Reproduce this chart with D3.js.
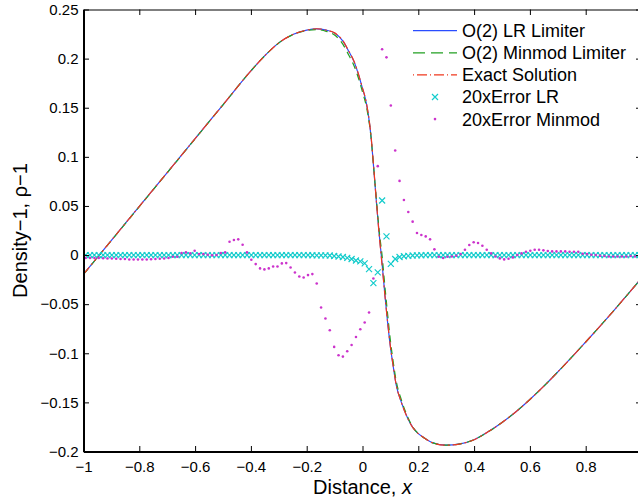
<!DOCTYPE html>
<html lang="en">
<head>
<meta charset="UTF-8">
<title>Density perturbation</title>
<script src="https://d3js.org/d3.v7.min.js"></script>
<style>
    body {
    margin: 0;
    background-color: white;
    }
    text {
    font-family: "Liberation Sans", Arial, Helvetica, sans-serif;
    fill: black;
    }
    .axis-title {
    font-size: 20px;
    }
    .legend-label {
    font-size: 18px;
    }
</style>
</head>
<body>
<svg id="chart"></svg>
<script>
    const width = 638;
    const height = 497;
    const plot = { left: 83.5, right: 641.5, top: 9.5, bottom: 451.5 };

    // ticks
    const xTicks = [-1, -0.8, -0.6, -0.4, -0.2, 0, 0.2, 0.4, 0.6, 0.8, 1];
    const xTickLabels = ["\u22121", "\u22120.8", "\u22120.6", "\u22120.4", "\u22120.2", "0", "0.2", "0.4", "0.6", "0.8", ""];
    const yTicks = [-0.2, -0.15, -0.1, -0.05, 0, 0.05, 0.1, 0.15, 0.2, 0.25];
    const yTickLabels = ["\u22120.2", "\u22120.15", "\u22120.1", "\u22120.05", "0", "0.05", "0.1", "0.15", "0.2", "0.25"];

    // solution curves, sampled along x
    const curveX = [-1.0, -0.9, -0.8, -0.7, -0.6, -0.5, -0.4, -0.35, -0.3, -0.25, -0.2, -0.165, -0.13, -0.1, -0.07, -0.05,
                    -0.03, -0.01, 0.0, 0.01, 0.02, 0.03, 0.04, 0.05, 0.06, 0.07, 0.08, 0.09, 0.10, 0.11, 0.12, 0.14,
                    0.16, 0.18, 0.20, 0.22, 0.25, 0.30, 0.35, 0.40, 0.45, 0.50, 0.55, 0.60, 0.65, 0.70, 0.75, 0.80,
                    0.85, 0.90, 0.95, 1.0];
    const exactY = [-0.0195, 0.0150, 0.0495, 0.0840, 0.1185, 0.1530, 0.1875, 0.2030, 0.2160, 0.2245, 0.2290, 0.2304, 0.2290, 0.2262, 0.2180, 0.2080,
                    0.1970, 0.1800, 0.1700, 0.1600, 0.1450, 0.1230, 0.0900, 0.0540, 0.0200, -0.0100, -0.0400, -0.0680, -0.0930, -0.1130, -0.1310, -0.1505,
                    -0.1650, -0.1755, -0.1818, -0.1860, -0.1910, -0.1936, -0.1922, -0.1880, -0.1800, -0.1705, -0.1595, -0.1470, -0.1335, -0.1190, -0.1040, -0.0885,
                    -0.0728, -0.0568, -0.0402, -0.0235];
    const lrY = [-0.0195, 0.0150, 0.0495, 0.0840, 0.1185, 0.1530, 0.1875, 0.2030, 0.2160, 0.2245, 0.2290, 0.2303, 0.2290, 0.2261, 0.2178, 0.2078,
                 0.1967, 0.1797, 0.1696, 0.1595, 0.1445, 0.1222, 0.0890, 0.0535, 0.0210, -0.0080, -0.0395, -0.0685, -0.0935, -0.1132, -0.1311, -0.1505,
                 -0.1650, -0.1755, -0.1818, -0.1860, -0.1910, -0.1936, -0.1922, -0.1880, -0.1800, -0.1705, -0.1595, -0.1470, -0.1335, -0.1190, -0.1040, -0.0885,
                 -0.0728, -0.0568, -0.0402, -0.0235];
    const minmodY = [-0.0197, 0.0148, 0.0493, 0.0838, 0.1183, 0.1530, 0.1875, 0.2030, 0.2160, 0.2243, 0.2285, 0.2295, 0.2278, 0.2240, 0.2145, 0.2040,
                     0.1925, 0.1760, 0.1660, 0.1560, 0.1420, 0.1215, 0.0895, 0.0560, 0.0240, 0.0000, -0.0310, -0.0600, -0.0870, -0.1085, -0.1270, -0.1480,
                     -0.1635, -0.1750, -0.1818, -0.1860, -0.1910, -0.1936, -0.1922, -0.1880, -0.1800, -0.1705, -0.1595, -0.1470, -0.1335, -0.1190, -0.1040, -0.0885,
                     -0.0728, -0.0568, -0.0402, -0.0236];

    // 20x error at the 128 cell centres
    const gridN = 128;
    const errLR = [
      0, 0, 0, 0, 0, 0, 0, 0, 0, 0, 0, 0, 0, 0, 0, 0,
      0, 0, 0, 0, 0, 0, 0, 0, 0, 0, 0, 0, 0, 0, 0, 0,
      0, 0, 0, 0, 0, 0, 0, 0, 0, 0, 0, 0, 0, 0, 0, 0,
      0, 0, 0, 0, -0.0002, -0.0003, -0.0003, -0.0004, -0.0005, -0.001, -0.0015, -0.002, -0.0028, -0.004, -0.0055, -0.0065,
      -0.0085, -0.0143, -0.0286, -0.0177, 0.0555, 0.019, -0.009, -0.004, -0.002, -0.0012, -0.0008, -0.0005, -0.0003, -0.0002, 0, 0,
      0, 0, 0, 0, 0, 0, 0, 0, 0, 0, 0, 0, 0, 0, 0, 0,
      0, 0, 0, 0, 0, 0, 0, 0, 0, 0, 0, 0, 0, 0, 0, 0,
      0, 0, 0, 0, 0, 0, 0, 0, 0, 0, 0, 0, 0, 0, 0, 0
    ];
    const errMinmod = [
      -0.003, -0.003, -0.003, -0.003, -0.0032, -0.0035, -0.0035, -0.0038, -0.004, -0.004, -0.0045, -0.0045, -0.0045, -0.0045, -0.0045, -0.0042,
      -0.004, -0.0038, -0.0035, -0.003, -0.0017, -0.0017, 0.002, 0.0027, 0.0017, 0.0044, 0.001, 0.001, 0.0003, -0.0003, 0, 0.002,
      0.0027, 0.0136, 0.0153, 0.016, 0.0105, 0.0027, -0.0048, -0.0092, -0.0136, -0.0146, -0.0136, -0.0116, -0.0116, -0.0085, -0.0082, -0.0126,
      -0.0177, -0.0218, -0.0228, -0.0204, -0.0194, -0.0289, -0.0534, -0.0646, -0.0765, -0.0935, -0.102, -0.1034, -0.098, -0.0915, -0.0834, -0.0755,
      -0.0687, -0.0585, -0.0238, 0.0905, 0.2095, 0.2013, 0.1523, 0.1064, 0.0755, 0.0561, 0.0439, 0.034, 0.0224, 0.0204, 0.019, 0.016,
      0.0058, -0.0017, -0.003, -0.0017, -0.0014, -0.0007, 0.001, 0.0054, 0.0102, 0.013, 0.0122, 0.0095, 0.0054, 0.0017, -0.0014, -0.0034,
      -0.0044, -0.0037, -0.0024, 0, 0.0017, 0.0034, 0.0044, 0.0054, 0.0054, 0.0048, 0.0041, 0.0037, 0.0037, 0.0037, 0.0037, 0.0034,
      0.0034, 0.0034, 0.0014, 0.001, 0.0003, 0, -0.0007, -0.001, -0.0014, -0.0014, -0.0014, -0.0014, -0.0014, -0.001, -0.0014, -0.0014
    ];
    const gridX = d3.range(gridN).map(i => -1 + (i + 0.5) * 2 / gridN);

    const legendLabels = ["O(2) LR Limiter", "O(2) Minmod Limiter", "Exact Solution", "20xError LR", "20xError Minmod"];

    const colLR = "#2a4dff";
    const colMinmod = "#22a022";
    const colExact = "#f0381e";
    const colErrLR = "#14cccc";
    const colErrMinmod = "#cc33cc";

    const svg = d3.select("#chart")
                .attr("width", width)
                .attr("height", height);

    const x = d3.scaleLinear().domain([-1, 1]).range([plot.left, plot.right]);
    const y = d3.scaleLinear().domain([-0.2, 0.25]).range([plot.bottom, plot.top]);

    svg.append("defs").append("clipPath").attr("id", "clip")
      .append("rect")
      .attr("x", plot.left).attr("y", plot.top)
      .attr("width", plot.right - plot.left).attr("height", plot.bottom - plot.top);

    const g = svg.append("g").attr("clip-path", "url(#clip)");

    const line = d3.line()
      .x((d, i) => x(curveX[i]))
      .y(d => y(d))
      .curve(d3.curveMonotoneX);

    // Draw curves
    g.append("path").attr("d", line(lrY))
      .attr("fill", "none").attr("stroke", colLR).attr("stroke-width", 1.2);
    g.append("path").attr("d", line(minmodY))
      .attr("fill", "none").attr("stroke", colMinmod).attr("stroke-width", 1.2)
      .attr("stroke-dasharray", "7,5");
    g.append("path").attr("d", line(exactY))
      .attr("fill", "none").attr("stroke", colExact).attr("stroke-width", 1.2)
      .attr("stroke-dasharray", "9,3,2,3");

    // Draw error markers
    const cross = "M-3,-3L3,3M-3,3L3,-3";
    g.selectAll(".err-lr")
      .data(errLR)
      .enter()
      .append("path")
      .attr("class", "err-lr")
      .attr("transform", (d, i) => `translate(${x(gridX[i])},${y(d)})`)
      .attr("d", cross)
      .attr("stroke", colErrLR)
      .attr("stroke-width", 1.2)
      .attr("fill", "none");

    g.selectAll(".err-mm")
      .data(errMinmod)
      .enter()
      .append("circle")
      .attr("class", "err-mm")
      .attr("cx", (d, i) => x(gridX[i]))
      .attr("cy", d => y(d))
      .attr("r", 1.3)
      .attr("fill", colErrMinmod);

    // Axes (MATLAB style: inward ticks on all four sides)
    function styleAxis(sel, width) {
      sel.select(".domain").attr("stroke-width", width);
      sel.selectAll(".tick line").attr("stroke-width", 1);
      sel.selectAll("text")
        .attr("font-size", 15)
        .attr("font-family", '"Liberation Sans", Arial, Helvetica, sans-serif')
        .attr("fill", "black");
    }

    svg.append("g")
      .attr("transform", `translate(0,${plot.bottom})`)
      .call(d3.axisBottom(x).tickValues(xTicks).tickFormat((d, i) => xTickLabels[i])
            .tickSizeInner(-5.5).tickSizeOuter(0).tickPadding(10))
      .call(s => styleAxis(s, 2));

    svg.append("g")
      .attr("transform", `translate(0,${plot.top})`)
      .call(d3.axisTop(x).tickValues(xTicks).tickFormat("")
            .tickSizeInner(-5.5).tickSizeOuter(0))
      .call(s => styleAxis(s, 1.2));

    svg.append("g")
      .attr("transform", `translate(${plot.left},0)`)
      .call(d3.axisLeft(y).tickValues(yTicks).tickFormat((d, i) => yTickLabels[i])
            .tickSizeInner(-5.5).tickSizeOuter(0).tickPadding(5))
      .call(s => styleAxis(s, 2));

    svg.append("g")
      .attr("transform", `translate(${plot.right},0)`)
      .call(d3.axisRight(y).tickValues(yTicks).tickFormat("")
            .tickSizeInner(-5.5).tickSizeOuter(0))
      .call(s => styleAxis(s, 1.2));

    // Axis titles
    const xTitle = svg.append("text")
      .attr("class", "axis-title")
      .attr("x", (plot.left + plot.right) / 2)
      .attr("y", 494)
      .attr("text-anchor", "middle");
    xTitle.append("tspan").text("Distance, ");
    xTitle.append("tspan").attr("font-style", "italic").text("x");

    svg.append("text")
      .attr("class", "axis-title")
      .attr("transform", `translate(27,${(plot.top + plot.bottom) / 2}) rotate(-90)`)
      .attr("text-anchor", "middle")
      .text("Density\u22121, \u03c1\u22121");

    // Legend (no box)
    const legX0 = 413, legX1 = 457, legY0 = 30.7, legStep = 22.1;
    const leg = svg.append("g");
    legendLabels.forEach((label, i) => {
      const ly = legY0 + i * legStep;
      if (i === 0) {
        leg.append("line").attr("x1", legX0).attr("x2", legX1).attr("y1", ly).attr("y2", ly)
          .attr("stroke", colLR).attr("stroke-width", 1.2);
      } else if (i === 1) {
        leg.append("line").attr("x1", legX0).attr("x2", legX1).attr("y1", ly).attr("y2", ly)
          .attr("stroke", colMinmod).attr("stroke-width", 1.2).attr("stroke-dasharray", "12,6");
      } else if (i === 2) {
        leg.append("line").attr("x1", legX0).attr("x2", legX1).attr("y1", ly).attr("y2", ly)
          .attr("stroke", colExact).attr("stroke-width", 1.2).attr("stroke-dasharray", "1,3,10,3");
      } else if (i === 3) {
        leg.append("path").attr("transform", `translate(${(legX0 + legX1) / 2},${ly})`)
          .attr("d", cross).attr("stroke", colErrLR).attr("stroke-width", 1.2).attr("fill", "none");
      } else {
        leg.append("circle").attr("cx", (legX0 + legX1) / 2).attr("cy", ly).attr("r", 1.3)
          .attr("fill", colErrMinmod);
      }
      leg.append("text")
        .attr("class", "legend-label")
        .attr("x", 462)
        .attr("y", ly)
        .attr("dy", "0.36em")
        .text(label);
    });
</script>
</body>
</html>
